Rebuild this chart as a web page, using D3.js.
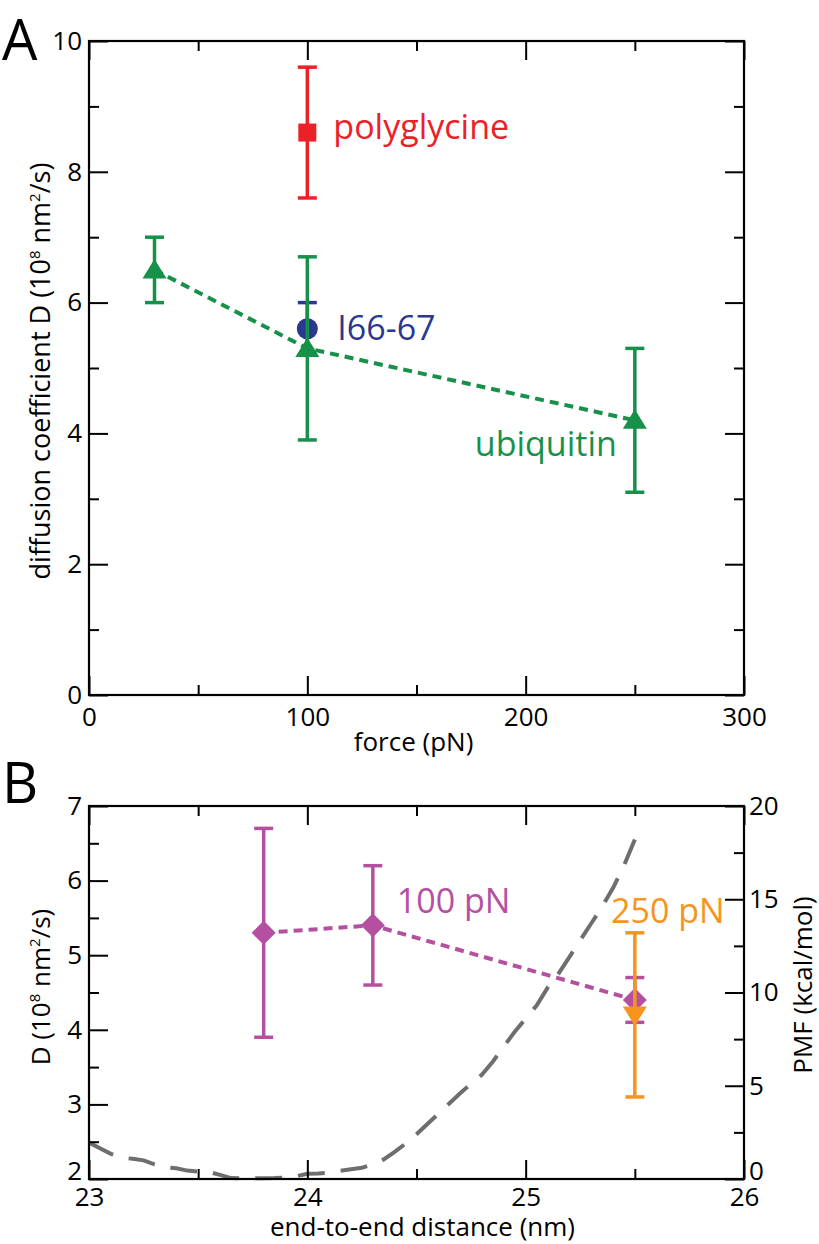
<!DOCTYPE html>
<html><head><meta charset="utf-8">
<script src="https://cdn.jsdelivr.net/npm/d3@7"></script>
<style>
html,body{margin:0;padding:0;background:#fff;}
svg text{font-family:"Open Sans",sans-serif;}
</style></head>
<body><svg id="c" width="819" height="1244"></svg>
<script>
// ---------- Panel A data ----------
const polyForce = [100];
const polyD = [8.6];
const polyErr = [1.0];

const i66Force = [100];
const i66D = [5.6];
const i66Err = [0.4];

const ubiForce = [30, 100, 250];
const ubiD = [6.5, 5.3, 4.2];
const ubiErr = [0.5, 1.4, 1.1];

const xTicksA = [0, 100, 200, 300];
const yTicksA = [0, 2, 4, 6, 8, 10];

// ---------- Panel B data ----------
const dist100 = [23.8, 24.3, 25.5];
const D100 = [5.3, 5.4, 4.4];
const err100 = [1.4, 0.8, 0.3];

const dist250 = [25.5];
const D250 = [4.2];
const err250 = [1.1];

const pmfDist = [23.00,23.05,23.10,23.15,23.20,23.25,23.30,23.35,23.40,23.45,23.50,23.55,23.60,23.65,23.70,23.75,23.80,23.85,23.90,23.95,24.00,24.05,24.10,24.15,24.20,24.25,24.30,24.35,24.40,24.45,24.50,24.55,24.60,24.65,24.70,24.75,24.80,24.85,24.90,24.95,25.00,25.05,25.10,25.15,25.20,25.25,25.30,25.35,25.40,25.45,25.50];
const pmfVal = [1.95,1.65,1.35,1.15,1.08,1.00,0.78,0.62,0.58,0.45,0.40,0.38,0.22,0.05,0.04,0.04,0.04,0.05,0.08,0.15,0.28,0.30,0.34,0.44,0.52,0.60,0.80,1.05,1.45,1.90,2.40,2.95,3.50,4.05,4.60,5.10,5.60,6.30,7.10,7.90,8.60,9.30,10.25,11.00,11.90,12.80,13.70,14.60,15.60,16.80,18.20];

const xTicksB = [23, 24, 25, 26];
const yTicksB = [2, 3, 4, 5, 6, 7];
const yTicksPMF = [0, 5, 10, 15, 20];

// ---------- styling ----------
const C = {red:"#EC2127", green:"#17914A", blue:"#2B388F", magenta:"#B4509F", orange:"#F7941D", gray:"#6E6E6E"};
const TICK = 26, TITLE = 26, ANN = 34;
const MAJ = 19, MIN = 10;

const svg = d3.select("#c");

const L = 89, R = 744;
const xA = d3.scaleLinear().domain([0, 300]).range([L, R]);
const yA = d3.scaleLinear().domain([0, 10]).range([695, 41]);
const xB = d3.scaleLinear().domain([23, 26]).range([L, R]);
const yB = d3.scaleLinear().domain([2, 7]).range([1179, 806]);
const yP = d3.scaleLinear().domain([0, 20]).range([1179, 806]);

function styleAxis(g){
  g.select(".domain").remove();
  g.selectAll(".tick line").attr("stroke","#000").attr("stroke-width",2);
  g.selectAll(".tick text").attr("font-size",TICK).attr("fill","#000").attr("font-family","Open Sans");
}
function mids(vals){ const m=[]; for(let i=0;i<vals.length-1;i++) m.push((vals[i]+vals[i+1])/2); return m; }

function frame(x, y, yTicks, yRight, yRightTicks, xTicks, xPad, liftCorner){
  const g = svg.append("g");
  const x0 = x.range()[0], x1 = x.range()[1], y0 = y.range()[0], y1 = y.range()[1];
  const xm = mids(xTicks), ym = mids(yTicks);
  // bottom
  g.append("g").attr("transform",`translate(0,${y0})`).call(d3.axisBottom(x).tickValues(xTicks).tickSize(-MAJ).tickPadding(xPad).tickFormat(d3.format("d"))).call(styleAxis);
  g.append("g").attr("transform",`translate(0,${y0})`).call(d3.axisBottom(x).tickValues(xm).tickSize(-MIN).tickFormat("")).call(styleAxis);
  // top
  g.append("g").attr("transform",`translate(0,${y1})`).call(d3.axisTop(x).tickValues(xTicks).tickSize(-MAJ).tickFormat("")).call(styleAxis);
  g.append("g").attr("transform",`translate(0,${y1})`).call(d3.axisTop(x).tickValues(xm).tickSize(-MIN).tickFormat("")).call(styleAxis);
  // left
  const la = g.append("g").attr("transform",`translate(${x0},0)`).call(d3.axisLeft(y).tickValues(yTicks).tickSize(-MAJ).tickPadding(7).tickFormat(d3.format("d"))).call(styleAxis);
  if (liftCorner) la.selectAll(".tick text").filter(d=>d===yTicks[0]).attr("dy","0.02em");
  g.append("g").attr("transform",`translate(${x0},0)`).call(d3.axisLeft(y).tickValues(ym).tickSize(-MIN).tickFormat("")).call(styleAxis);
  // right
  if (yRight){
    const rm = mids(yRightTicks);
    const ra = g.append("g").attr("transform",`translate(${x1},0)`).call(d3.axisRight(yRight).tickValues(yRightTicks).tickSize(-MAJ).tickPadding(5).tickFormat(d3.format("d"))).call(styleAxis);
    if (liftCorner) ra.selectAll(".tick text").filter(d=>d===yRightTicks[0]).attr("dy","0.02em");
    g.append("g").attr("transform",`translate(${x1},0)`).call(d3.axisRight(yRight).tickValues(rm).tickSize(-MIN).tickFormat("")).call(styleAxis);
  } else {
    g.append("g").attr("transform",`translate(${x1},0)`).call(d3.axisRight(y).tickValues(yTicks).tickSize(-MAJ).tickFormat("")).call(styleAxis);
    g.append("g").attr("transform",`translate(${x1},0)`).call(d3.axisRight(y).tickValues(ym).tickSize(-MIN).tickFormat("")).call(styleAxis);
  }
  g.append("rect").attr("x",x0).attr("y",y1).attr("width",x1-x0).attr("height",y0-y1)
    .attr("fill","none").attr("stroke","#000").attr("stroke-width",2.2);
}

function errBars(g, xs, ys, es, x, y, color){
  const cw = 9.5;
  xs.forEach((xv,i)=>{
    const px = x(xv), top = y(ys[i]+es[i]), bot = y(ys[i]-es[i]);
    g.append("line").attr("x1",px).attr("x2",px).attr("y1",top).attr("y2",bot).attr("stroke",color).attr("stroke-width",3.5);
    g.append("line").attr("x1",px-cw).attr("x2",px+cw).attr("y1",top).attr("y2",top).attr("stroke",color).attr("stroke-width",3.5);
    g.append("line").attr("x1",px-cw).attr("x2",px+cw).attr("y1",bot).attr("y2",bot).attr("stroke",color).attr("stroke-width",3.5);
  });
}
const triUp = "M0,-11L12,8.5L-12,8.5Z";
const triDown = "M0,11L12,-8.5L-12,-8.5Z";
const diamond = "M0,-12L12,0L0,12L-12,0Z";

// ================= Panel A =================
frame(xA, yA, yTicksA, null, null, xTicksA, 13, false);
const gA = svg.append("g");

// polyglycine
errBars(gA, polyForce, polyD, polyErr, xA, yA, C.red);
gA.selectAll(".sq").data(polyForce).enter().append("rect")
  .attr("x",d=>xA(d)-9).attr("y",(d,i)=>yA(polyD[i])-9).attr("width",18).attr("height",18).attr("fill",C.red);

// I66-67
errBars(gA, i66Force, i66D, i66Err, xA, yA, C.blue);
gA.selectAll(".ci").data(i66Force).enter().append("circle")
  .attr("cx",d=>xA(d)).attr("cy",(d,i)=>yA(i66D[i])).attr("r",10.5).attr("fill",C.blue);

// ubiquitin
const lineA = d3.line().x(d=>xA(d[0])).y(d=>yA(d[1]));
gA.append("path").attr("d",lineA(ubiForce.map((f,i)=>[f,ubiD[i]])))
  .attr("fill","none").attr("stroke",C.green).attr("stroke-width",4).attr("stroke-dasharray","9,6");
errBars(gA, ubiForce, ubiD, ubiErr, xA, yA, C.green);
gA.selectAll(".tr").data(ubiForce).enter().append("path")
  .attr("d",triUp).attr("transform",(d,i)=>`translate(${xA(d)},${yA(ubiD[i])})`).attr("fill",C.green);

// labels
gA.append("text").attr("x",xA(100)+26).attr("y",yA(8.6)+6).attr("font-size",ANN).attr("fill",C.red).text("polyglycine");
gA.append("text").attr("x",xA(100)+30).attr("y",yA(5.6)+11).attr("font-size",ANN).attr("fill",C.blue).text("I66-67");
gA.append("text").attr("x",xA(250)-18).attr("y",yA(4.2)+36).attr("text-anchor","end").attr("font-size",ANN).attr("fill",C.green).text("ubiquitin");

// axis titles A
svg.append("text").attr("x",(L+R)/2 - 3).attr("y",751).attr("text-anchor","middle").attr("font-size",TITLE).text("force (pN)");
const tA = svg.append("text").attr("transform","translate(50,371) rotate(-90)").attr("text-anchor","middle").attr("font-size",27);
tA.append("tspan").text("diffusion coefficient D (10");
tA.append("tspan").attr("font-size",15).attr("dy",-10).text("8");
tA.append("tspan").attr("dy",10).text(" nm");
tA.append("tspan").attr("font-size",15).attr("dy",-10).text("2");
tA.append("tspan").attr("dy",10).text("/s)");

svg.append("text").attr("x",2).attr("y",60).attr("font-size",56).text("A");

// ================= Panel B =================
const gB = svg.append("g");
// PMF curve (right axis)
const lineP = d3.line().x(d=>xB(d[0])).y(d=>yP(d[1]));
gB.append("path").attr("d",lineP(pmfDist.map((x,i)=>[x,pmfVal[i]])))
  .attr("fill","none").attr("stroke",C.gray).attr("stroke-width",4).attr("stroke-dasharray","27,16");

frame(xB, yB, yTicksB, yP, yTicksPMF, xTicksB, 9, true);
const gB2 = svg.append("g");

// 100 pN
const lineB = d3.line().x(d=>xB(d[0])).y(d=>yB(d[1]));
gB2.append("path").attr("d",lineB(dist100.map((x,i)=>[x,D100[i]])))
  .attr("fill","none").attr("stroke",C.magenta).attr("stroke-width",4).attr("stroke-dasharray","9,6");
errBars(gB2, dist100, D100, err100, xB, yB, C.magenta);
gB2.selectAll(".dm").data(dist100).enter().append("path")
  .attr("d",diamond).attr("transform",(d,i)=>`translate(${xB(d)},${yB(D100[i])})`).attr("fill",C.magenta);

// 250 pN
errBars(gB2, dist250, D250, err250, xB, yB, C.orange);
gB2.selectAll(".td").data(dist250).enter().append("path")
  .attr("d",triDown).attr("transform",(d,i)=>`translate(${xB(d)},${yB(D250[i])})`).attr("fill",C.orange);

gB2.append("text").attr("x",xB(24.3)+24).attr("y",yB(5.4)-12).attr("font-size",ANN).attr("fill",C.magenta).text("100 pN");
gB2.append("text").attr("x",xB(25.5)+33).attr("y",yB(5.3)-10).attr("text-anchor","middle").attr("font-size",ANN).attr("fill",C.orange).text("250 pN");

// axis titles B
svg.append("text").attr("x",(L+R)/2 + 6).attr("y",1236).attr("text-anchor","middle").attr("font-size",TITLE).text("end-to-end distance (nm)");
const tB = svg.append("text").attr("transform","translate(50,987) rotate(-90)").attr("text-anchor","middle").attr("font-size",TITLE);
tB.append("tspan").text("D (10");
tB.append("tspan").attr("font-size",15).attr("dy",-10).text("8");
tB.append("tspan").attr("dy",10).text(" nm");
tB.append("tspan").attr("font-size",15).attr("dy",-10).text("2");
tB.append("tspan").attr("dy",10).text("/s)");
svg.append("text").attr("transform","translate(812,985) rotate(-90)").attr("text-anchor","middle").attr("font-size",TITLE).text("PMF (kcal/mol)");

svg.append("text").attr("x",2).attr("y",803).attr("font-size",56).text("B");
</script>
</body></html>
